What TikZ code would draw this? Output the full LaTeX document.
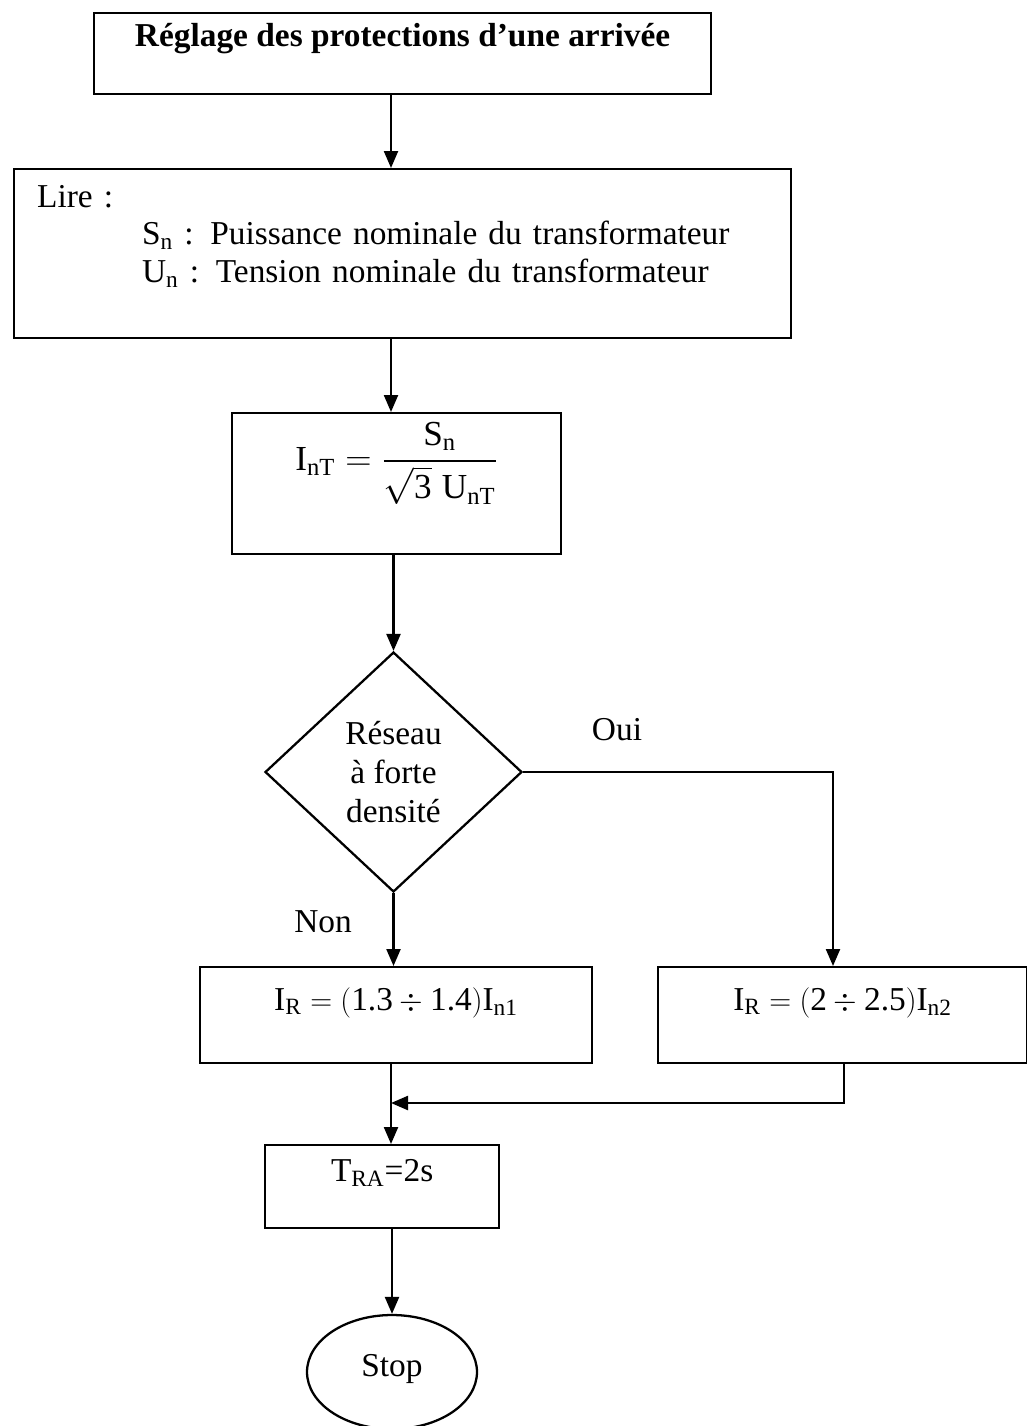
\documentclass[tikz,border=0pt]{standalone}
\usepackage{amsmath}
\usepackage{fontspec}
\setmainfont{Liberation Serif}
\usetikzlibrary{shapes.geometric,arrows.meta}

\begin{document}
\begin{tikzpicture}[x=0.02cm,y=-0.02cm,
  box/.style={draw,line width=1.3pt,inner sep=0pt,font=\fontsize{19}{21.5}\selectfont},
  arr/.style={line width=1.3pt,-{Triangle[length=0.34cm,width=0.28cm]}},
  lbl/.style={font=\fontsize{19}{21.5}\selectfont}]
\useasboundingbox (0,0) rectangle (1027,1426);
% title and inputs
\node[box,anchor=north west,minimum width=12.34cm,text height=0.66cm,text depth=0.96cm,font=\bfseries\fontsize{19}{21.5}\selectfont] (titre) at (93,12) {Réglage des protections d’une arrivée};
\node[box,anchor=north west,text width=14.62cm,inner xsep=0.46cm,align=left,text height=0.76cm,text depth=2.62cm] (lire) at (13,168)
  {Lire :\\ \hspace*{2.1cm}S\textsubscript{n} : Puissance nominale du transformateur\\ \hspace*{2.1cm}U\textsubscript{n} : Tension nominale du transformateur};
% nominal current
\node[box,anchor=north,minimum width=6.58cm,text height=1.14cm,text depth=1.68cm,font=\fontsize{20}{24}\selectfont] (inT) at (396.5,412)
  {$\text{I}_\text{nT} = \dfrac{\text{S}_\text{n}}{\sqrt{\text{3}}\;\text{U}_\text{nT}}$};
% decision
\node[draw,diamond,line width=1.3pt,inner sep=0pt,minimum width=5.14cm,minimum height=4.8cm,align=center,font=\fontsize{19}{22}\selectfont] (dec) at (393.5,772) {Réseau\\à forte\\densité};
\node[lbl] (oui) at (617,730) {Oui};
\node[lbl] (non) at (323,922) {Non};
% settings
\node[box,anchor=north west,minimum width=7.84cm,text height=0.86cm,text depth=1.06cm] (rnon) at (199,966)
  {$\text{I}_\text{R} = (\text{1.3} \div \text{1.4})\text{I}_\text{n1}$};
\node[box,anchor=north west,minimum width=7.38cm,text height=0.86cm,text depth=1.06cm] (roui) at (657,966)
  {$\text{I}_\text{R} = (\text{2} \div \text{2.5})\text{I}_\text{n2}$};
\node[box,anchor=north west,minimum width=4.68cm,text height=0.72cm,text depth=0.94cm] (tra) at (264,1144) {T\textsubscript{RA}=2s};
\node[draw,ellipse,line width=1.3pt,inner sep=0pt,minimum width=3.4cm,minimum height=2.28cm,text height=0.38cm,text depth=0.22cm,font=\fontsize{19}{21.5}\selectfont] (stop) at (392,1372) {Stop};
% connectors
\coordinate (xa) at (391,0);
\coordinate (xo) at (833,0);
\coordinate (xr) at (844,0);
\coordinate (join) at (391,1103);
\draw[arr] (titre.south -| xa) -- (lire.north -| xa);
\draw[arr] (lire.south -| xa) -- (inT.north -| xa);
\draw[arr] (inT.south -| dec.north) -- (dec.north);
\draw[arr] (dec.south) -- (rnon.north -| dec.south);
\draw[arr] (dec.east) -| (roui.north -| xo);
\draw[arr] (roui.south -| xr) |- (join);
\draw[arr] (rnon.south -| xa) -- (tra.north -| xa);
\draw[arr] (tra.south -| stop.north) -- (stop.north);
\end{tikzpicture}
\end{document}
